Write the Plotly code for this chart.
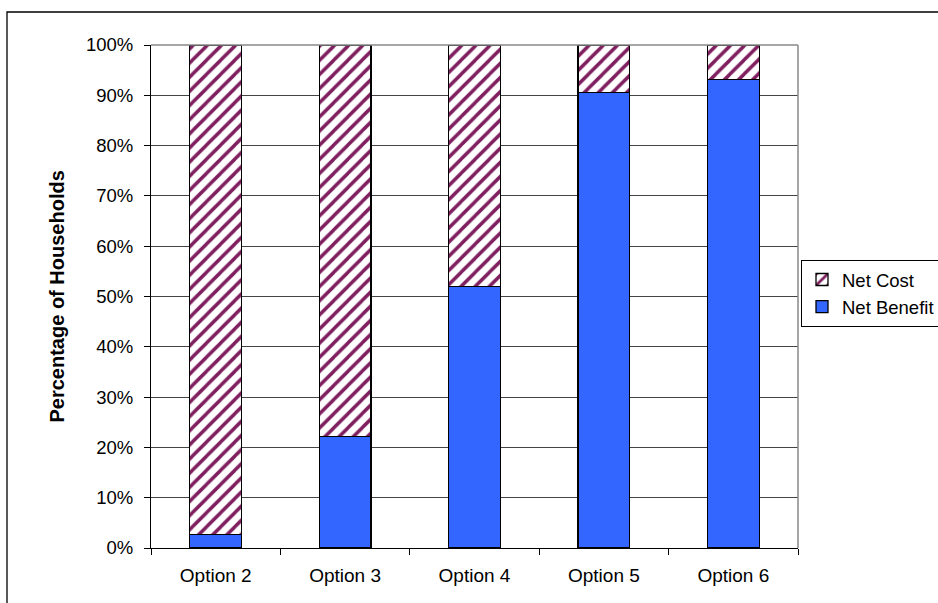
import plotly.graph_objects as go

categories = ["Option 2", "Option 3", "Option 4", "Option 5", "Option 6"]
net_benefit = [0.027, 0.222, 0.520, 0.905, 0.931]
net_cost = [round(1 - v, 3) for v in net_benefit]
y_ticks = [0, 0.1, 0.2, 0.3, 0.4, 0.5, 0.6, 0.7, 0.8, 0.9, 1.0]

FONT = "Liberation Sans, Arial, sans-serif"
FS = 19

fig = go.Figure()
fig.add_trace(go.Bar(
    x=categories, y=net_benefit, name="Net Benefit", legendgroup="b",
    marker=dict(color="#3366FF", line=dict(color="#000000", width=1.3)),
))
fig.add_trace(go.Bar(
    x=categories, y=net_cost, name="Net Cost", legendgroup="c",
    marker=dict(color="#FFFFFF", line=dict(color="#000000", width=1.3),
                pattern=dict(shape="/", fgcolor="#7F1F5F", bgcolor="#FFFFFF",
                             size=10, solidity=0.35, fillmode="replace")),
))

fig.update_layout(
    width=938, height=603,
    margin=dict(l=151, r=140, t=45, b=55, autoexpand=False),
    barmode="stack", bargap=0.6,
    paper_bgcolor="white", plot_bgcolor="white",
    font=dict(family=FONT, size=FS, color="#000000"),
    showlegend=True,
    legend=dict(x=(801 - 151) / 647, y=(548 - 260) / 503,
                xanchor="left", yanchor="top",
                traceorder="reversed", tracegroupgap=9,
                bordercolor="#000000", borderwidth=1,
                bgcolor="white", font=dict(size=18.5)),
    xaxis=dict(showline=True, linecolor="#000000", linewidth=1,
               ticks="outside", tickson="boundaries", ticklen=6,
               tickcolor="#000000", showgrid=False, ticklabelstandoff=10),
    yaxis=dict(range=[0, 1], tickvals=y_ticks, tickformat=".0%",
               showline=True, linecolor="#000000", linewidth=1,
               ticks="outside", ticklen=6, tickcolor="#000000",
               showgrid=True, gridcolor="#444444", gridwidth=1,
               zeroline=False, ticklabelstandoff=7,
               tickfont=dict(size=18.5)),
    shapes=[
        dict(type="line", xref="paper", yref="paper", x0=0, x1=1, y0=1, y1=1,
             line=dict(color="#888888", width=1.5)),
        dict(type="line", xref="paper", yref="paper", x0=1, x1=1, y0=0, y1=1,
             line=dict(color="#888888", width=1.5)),
        dict(type="rect", xref="paper", yref="paper",
             x0=(7 - 151) / 647, x1=(945 - 151) / 647,
             y0=(548 - 615) / 503, y1=(548 - 12) / 503,
             line=dict(color="#000000", width=1.3), layer="below"),
    ],
    annotations=[
        dict(text="<b>Percentage of Households</b>", textangle=-90,
             xref="paper", yref="paper", x=(43 - 151) / 647, y=0.5,
             showarrow=False, font=dict(size=20)),
    ],
)

fig.write_html("out.html", config={"displayModeBar": False},
               post_script="document.body.style.margin='0';")
